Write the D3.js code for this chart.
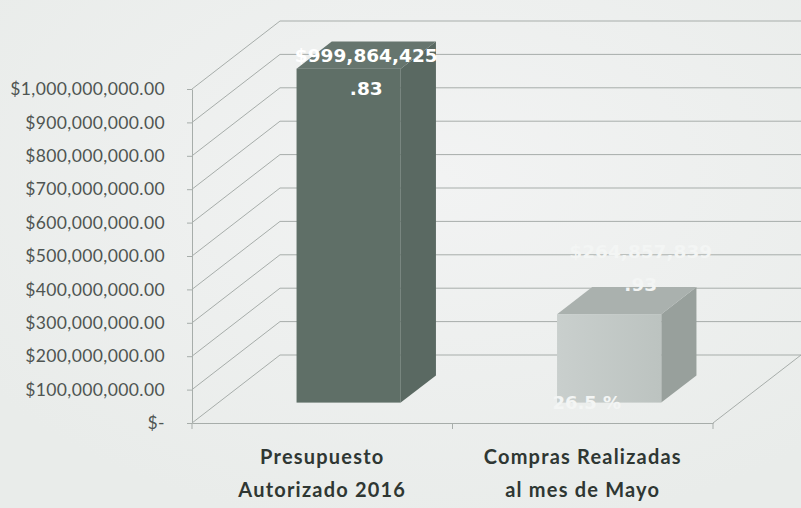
<!DOCTYPE html>
<html>
<head>
<meta charset="utf-8">
<script src="https://cdn.jsdelivr.net/npm/d3@7"></script>
<style>
  html, body { margin: 0; padding: 0; background: #edefee; }
  svg { display: block; }
</style>
</head>
<body>
<div id="chart"></div>
<script>
(function(){
  // data
  const categories = ["Presupuesto Autorizado 2016", "Compras Realizadas al mes de Mayo"];
  const categoryLines = [["Presupuesto", "Autorizado 2016"], ["Compras Realizadas", "al mes de Mayo"]];
  const values = [999864425.83, 264857839.93];
  const valueLabels = [["$999,864,425", ".83"], ["$264,857,839", ".93"]];
  const percentLabels = ["", "26.5 %"];
  const yTicks = [0, 1e8, 2e8, 3e8, 4e8, 5e8, 6e8, 7e8, 8e8, 9e8, 1e9];

  const width = 801;
  const height = 508;

  // 3D depth offset of the back wall
  const dx = 88, dy = -68;
  const frontDepth = 0.3, backDepth = 0.7;

  const svg = d3.select("#chart").append("svg")
    .attr("width", width)
    .attr("height", height);

  const defs = svg.append("defs");
  const bg = defs.append("radialGradient").attr("id", "bg")
    .attr("cx", "0.55").attr("cy", "0.35").attr("r", "0.7");
  bg.append("stop").attr("offset", "0%").attr("stop-color", "#f2f3f3");
  bg.append("stop").attr("offset", "100%").attr("stop-color", "#e9ecea");

  const g2 = defs.append("linearGradient").attr("id", "bar2front")
    .attr("x1", "0").attr("x2", "1").attr("y1", "0").attr("y2", "0");
  g2.append("stop").attr("offset", "0%").attr("stop-color", "#c9cfcd");
  g2.append("stop").attr("offset", "100%").attr("stop-color", "#bcc3c0");

  svg.append("rect").attr("width", width).attr("height", height).attr("fill", "url(#bg)");

  const y = d3.scaleLinear().domain([0, 1e9]).range([423, 89]);
  const x = d3.scaleBand().domain(categories).range([192, 713]).padding(0);

  const gridColor = "#a7adaa";

  // back wall + left wall gridlines
  const grid = svg.append("g").attr("class", "grid");
  grid.selectAll("path")
    .data(yTicks)
    .enter().append("path")
    .attr("fill", "none")
    .attr("stroke", gridColor)
    .attr("stroke-width", 1)
    .attr("d", d => `M${x.range()[0]},${y(d)}L${x.range()[0] + dx},${y(d) + dy}L${x.range()[1] + dx},${y(d) + dy}`);

  // floor right edge
  grid.append("line")
    .attr("x1", x.range()[1]).attr("y1", y(0))
    .attr("x2", x.range()[1] + dx).attr("y2", y(0) + dy)
    .attr("stroke", gridColor);

  // bars
  const shift = f => [dx * f, dy * f];
  const barW = x.bandwidth() * 0.4;
  const colors = [
    { front: "#5f6f67", side: "#5a6962", top: "#66756e" },
    { front: "url(#bar2front)", side: "#98a09c", top: "#aab1ae" }
  ];

  const bars = svg.append("g").attr("class", "bars")
    .selectAll("g")
    .data(values)
    .enter().append("g");

  bars.each(function(v, i) {
    const gb = d3.select(this);
    const cx = x(categories[i]) + x.bandwidth() / 2;
    const [fx, fy] = shift(frontDepth);
    const [bx, by] = shift(backDepth);
    const l = cx - barW / 2, r = cx + barW / 2;
    const t = y(v), b = y(0);
    // side face
    gb.append("path").attr("fill", colors[i].side)
      .attr("d", `M${r + fx},${t + fy}L${r + bx},${t + by}L${r + bx},${b + by}L${r + fx},${b + fy}Z`);
    // top face
    gb.append("path").attr("fill", colors[i].top)
      .attr("d", `M${l + fx},${t + fy}L${l + bx},${t + by}L${r + bx},${t + by}L${r + fx},${t + fy}Z`);
    // front face
    gb.append("rect").attr("fill", colors[i].front)
      .attr("x", l + fx).attr("y", t + fy)
      .attr("width", barW).attr("height", b - t);
  });

  // y axis
  const fmt = d3.format("$,.2f");
  const yAxis = svg.append("g")
    .attr("transform", `translate(${x.range()[0]},0)`)
    .call(d3.axisLeft(y).tickValues(yTicks).tickSizeInner(5).tickSizeOuter(0).tickPadding(22)
      .tickFormat(d => d === 0 ? "$-" : fmt(d)));
  yAxis.select(".domain").attr("stroke", gridColor);
  yAxis.selectAll(".tick line").attr("stroke", gridColor);
  yAxis.selectAll("text")
    .attr("fill", "#4f5552")
    .style("font-family", "Lato, 'Open Sans', sans-serif")
    .style("font-size", "17.5px")
    .style("letter-spacing", "0.4px");

  // x axis baseline
  const xAxis = svg.append("g")
    .attr("transform", `translate(0,${y(0)})`)
    .call(d3.axisBottom(x).tickSizeInner(0).tickSizeOuter(0).tickFormat(""));
  xAxis.select(".domain").attr("stroke", gridColor);
  xAxis.selectAll(".tick").remove();
  xAxis.selectAll("line.sep")
    .data([x.range()[0], x(categories[1]), x.range()[1]])
    .enter().append("line")
    .attr("x1", d => d).attr("x2", d => d)
    .attr("y1", 0).attr("y2", 6)
    .attr("stroke", gridColor);

  // category labels
  svg.append("g").selectAll("text")
    .data(categoryLines)
    .enter().append("text")
    .attr("text-anchor", "middle")
    .attr("fill", "#2f3733")
    .style("font-family", "Lato, 'Open Sans', sans-serif")
    .style("font-weight", "bold")
    .style("font-size", "20px")
    .style("letter-spacing", "1.2px")
    .each(function(lines, i) {
      const cx = x(categories[i]) + x.bandwidth() / 2;
      d3.select(this).selectAll("tspan")
        .data(lines)
        .enter().append("tspan")
        .attr("x", cx)
        .attr("y", (d, j) => 464 + j * 33)
        .text(d => d);
    });

  // value labels (kept inside the plot when the bar reaches the top)
  const labelColors = ["#ffffff", "#f3f5f4"];
  svg.append("g").selectAll("text")
    .data(valueLabels)
    .enter().append("text")
    .attr("text-anchor", "middle")
    .attr("fill", (d, i) => labelColors[i])
    .style("font-family", "'DejaVu Sans', sans-serif")
    .style("font-weight", "bold")
    .style("font-size", "18.5px")
    .each(function(lines, i) {
      const cx = x(categories[i]) + x.bandwidth() / 2 + dx * 0.5 + (i === 1 ? 14 : 0);
      const base = Math.max(y(values[i]) + dy * 0.5 - 43, 62);
      d3.select(this).selectAll("tspan")
        .data(lines)
        .enter().append("tspan")
        .attr("x", cx)
        .attr("y", (d, j) => base + j * 33)
        .text(d => d);
    });

  // percentage label
  svg.append("g").selectAll("text")
    .data(percentLabels)
    .enter().append("text")
    .attr("text-anchor", "middle")
    .attr("fill", "#f3f5f4")
    .style("font-family", "'DejaVu Sans', sans-serif")
    .style("font-weight", "bold")
    .style("font-size", "18px")
    .attr("x", (d, i) => x(categories[i]) + x.bandwidth() / 2 + 4)
    .attr("y", y(0) - 14)
    .text(d => d);
})();
</script>
</body>
</html>
